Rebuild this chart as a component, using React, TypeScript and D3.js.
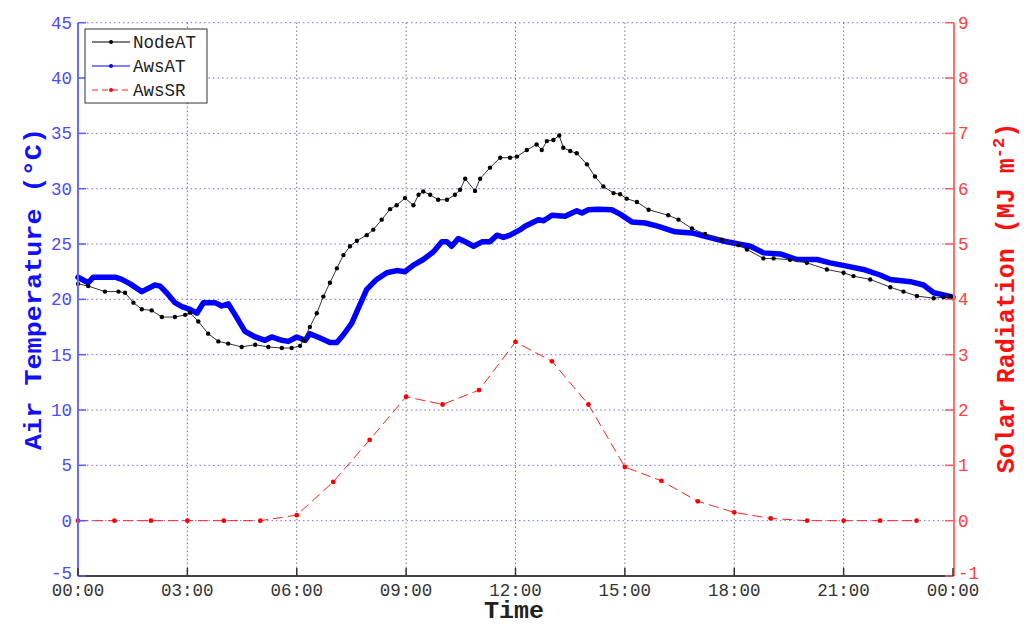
import React from "react";
import * as d3 from "d3";

// time in hours since 00:00, value
const nodeHours = [0, 0.28, 0.74, 1.11, 1.29, 1.52, 1.75, 2.02, 2.3, 2.66, 2.94, 3.07, 3.3, 3.57, 3.85, 4.12, 4.49, 4.86, 5.22, 5.59, 5.86, 6.09, 6.18, 6.36, 6.55, 6.73, 6.91, 7.1, 7.28, 7.46, 7.65, 7.92, 8.1, 8.33, 8.56, 8.74, 8.97, 9.2, 9.34, 9.47, 9.66, 9.88, 10.12, 10.34, 10.48, 10.62, 10.89, 11.03, 11.3, 11.58, 11.85, 12.04, 12.31, 12.58, 12.72, 12.86, 13.04, 13.2, 13.31, 13.5, 13.68, 13.96, 14.18, 14.41, 14.69, 14.87, 15.05, 15.33, 15.65, 16.19, 16.47, 16.84, 17.2, 17.66, 18.12, 18.35, 18.8, 19.08, 19.53, 19.99, 20.54, 21.0, 21.27, 21.73, 22.28, 22.64, 23.01, 23.47, 23.74, 23.92, 24.0];
const nodeAT = [21.4, 21.2, 20.7, 20.7, 20.6, 19.7, 19.1, 19.0, 18.4, 18.4, 18.6, 18.8, 18.0, 16.9, 16.2, 16.0, 15.7, 15.9, 15.7, 15.6, 15.6, 15.8, 16.3, 17.5, 18.75, 20.25, 21.5, 22.8, 24.0, 24.8, 25.3, 25.8, 26.3, 27.2, 28.15, 28.5, 29.15, 28.5, 29.45, 29.75, 29.45, 29.0, 29.0, 29.45, 29.9, 30.9, 29.8, 30.9, 31.9, 32.8, 32.8, 32.9, 33.5, 34.0, 33.5, 34.3, 34.4, 34.8, 33.7, 33.4, 33.2, 32.2, 31.1, 30.2, 29.6, 29.5, 29.1, 28.8, 28.1, 27.6, 27.2, 26.4, 25.9, 25.4, 24.9, 24.5, 23.7, 23.7, 23.57, 23.3, 22.7, 22.4, 22.1, 21.8, 21.1, 20.7, 20.3, 20.1, 20.2, 20.3, 20.1];

const awsHours = [0, 0.28, 0.42, 1.02, 1.2, 1.43, 1.75, 2.11, 2.25, 2.43, 2.66, 2.85, 3.07, 3.26, 3.44, 3.76, 3.94, 4.12, 4.31, 4.58, 4.86, 5.13, 5.31, 5.59, 5.77, 6.0, 6.23, 6.36, 6.64, 6.91, 7.1, 7.28, 7.51, 7.69, 7.92, 8.19, 8.47, 8.74, 8.97, 9.2, 9.47, 9.75, 9.98, 10.12, 10.25, 10.43, 10.62, 10.85, 11.08, 11.3, 11.49, 11.67, 11.85, 12.13, 12.26, 12.63, 12.77, 13.0, 13.36, 13.68, 13.82, 14.0, 14.27, 14.64, 14.87, 15.19, 15.56, 15.92, 16.38, 16.84, 17.2, 17.66, 18.12, 18.44, 18.8, 19.26, 19.72, 20.27, 20.63, 21.09, 21.54, 22.0, 22.28, 22.83, 23.19, 23.47, 23.74, 24.0];
const awsAT = [22.0, 21.5, 22.0, 22.0, 21.8, 21.4, 20.7, 21.3, 21.2, 20.6, 19.7, 19.35, 19.1, 18.75, 19.7, 19.7, 19.4, 19.6, 18.6, 17.1, 16.6, 16.3, 16.6, 16.3, 16.2, 16.6, 16.3, 16.9, 16.5, 16.1, 16.1, 16.8, 17.85, 19.2, 20.9, 21.8, 22.4, 22.6, 22.5, 23.1, 23.6, 24.3, 25.2, 25.2, 24.8, 25.5, 25.2, 24.8, 25.2, 25.2, 25.8, 25.6, 25.8, 26.3, 26.6, 27.2, 27.1, 27.6, 27.5, 28.0, 27.8, 28.1, 28.15, 28.1, 27.7, 27.0, 26.9, 26.6, 26.1, 26.0, 25.7, 25.3, 25.0, 24.8, 24.2, 24.1, 23.6, 23.6, 23.3, 23.0, 22.7, 22.2, 21.8, 21.6, 21.3, 20.6, 20.4, 20.2];

const srHours = [0, 1, 2, 3, 4, 5, 6, 7, 8, 9, 10, 11, 12, 13, 14, 15, 16, 17, 18, 19, 20, 21, 22, 23];
const awsSR = [0, 0, 0, 0, 0, 0, 0.1, 0.7, 1.46, 2.24, 2.1, 2.36, 3.23, 2.88, 2.1, 0.97, 0.72, 0.35, 0.15, 0.04, 0, 0, 0, 0];

const timeTicks = [0, 3, 6, 9, 12, 15, 18, 21, 24];
const timeTickLabels = ["00:00", "03:00", "06:00", "09:00", "12:00", "15:00", "18:00", "21:00", "00:00"];
const tempTicks = [-5, 0, 5, 10, 15, 20, 25, 30, 35, 40, 45];
const srTicks = [-1, 0, 1, 2, 3, 4, 5, 6, 7, 8, 9];
const legendNames = ["NodeAT", "AwsAT", "AwsSR"];

const L = 78, R = 953, T = 22.7, B = 576;
const MONO = "'Liberation Mono', 'Courier New', monospace";

export default function App() {
  const x = d3.scaleLinear().domain([0, 24]).range([L, R]);
  const yL = d3.scaleLinear().domain([-5, 45]).range([B, T]);
  const yR = d3.scaleLinear().domain([-1, 9]).range([B, T]);

  const nodePts = nodeHours.map((h, i) => [x(h), yL(nodeAT[i])] as [number, number]);
  const awsPts = awsHours.map((h, i) => [x(h), yL(awsAT[i])] as [number, number]);
  const srPts = srHours.map((h, i) => [x(h), yR(awsSR[i])] as [number, number]);
  const line = d3.line();

  const blue = "#4a4aff";
  const red = "#ff4040";
  const legendY = [42, 66, 90];

  return (
    <svg width={1024} height={637} style={{ position: "absolute", left: 0, top: 0, background: "#fff" }}>
      {/* horizontal grid */}
      {tempTicks.filter((t) => t > -5).map((t) => (
        <line key={"hg" + t} x1={L} x2={R} y1={yL(t)} y2={yL(t)} stroke="#7070ff" strokeWidth={1} strokeDasharray="1.5,3" />
      ))}
      {/* vertical grid */}
      {timeTicks.slice(1, -1).map((t) => (
        <line key={"vg" + t} x1={x(t)} x2={x(t)} y1={T} y2={B} stroke="#333" strokeWidth={1} strokeDasharray="1,3" />
      ))}
      {/* series */}
      <path d={line(srPts) || ""} fill="none" stroke="#ff2020" strokeWidth={1} strokeDasharray="10,5" />
      {srPts.map((p, i) => (
        <circle key={"sr" + i} cx={p[0]} cy={p[1]} r={2.4} fill="#ff0000" />
      ))}
      <path d={line(awsPts) || ""} fill="none" stroke="#0000ff" strokeWidth={5.5} strokeLinejoin="round" strokeLinecap="round" />
      <path d={line(nodePts) || ""} fill="none" stroke="#333" strokeWidth={1} />
      {nodePts.map((p, i) => (
        <circle key={"nd" + i} cx={p[0]} cy={p[1]} r={2.2} fill="#000" />
      ))}
      {/* axes */}
      <line x1={L} x2={R} y1={B} y2={B} stroke="#444" strokeWidth={2} />
      <line x1={L} x2={L} y1={T} y2={B} stroke="#6a6aff" strokeWidth={2} />
      <line x1={R + 1} x2={R + 1} y1={T} y2={B} stroke="#ff7070" strokeWidth={2} />
      {tempTicks.map((t) => (
        <g key={"lt" + t}>
          <line x1={L} x2={L + 8} y1={yL(t)} y2={yL(t)} stroke="#5a5aff" strokeWidth={1.5} />
          <text x={72} y={yL(t) + (t === -5 ? 3 : 6)} textAnchor="end" fontFamily={MONO} fontSize={17.5} fill={blue}>
            {t}
          </text>
        </g>
      ))}
      {srTicks.map((t) => (
        <g key={"rt" + t}>
          <line x1={R - 8} x2={R + 1} y1={yR(t)} y2={yR(t)} stroke="#ff5a5a" strokeWidth={1.5} />
          <text x={958} y={yR(t) + (t === -1 ? 3 : 6)} textAnchor="start" fontFamily={MONO} fontSize={17.5} fill={red}>
            {t}
          </text>
        </g>
      ))}
      {timeTicks.map((t, i) => (
        <g key={"bt" + t}>
          <line x1={x(t)} x2={x(t)} y1={B} y2={B - 8} stroke="#333" strokeWidth={1.5} />
          <text x={x(t)} y={596} textAnchor="middle" fontFamily={MONO} fontSize={17.5} fill="#333">
            {timeTickLabels[i]}
          </text>
        </g>
      ))}
      {/* axis labels */}
      <text x={514} y={618} textAnchor="middle" fontFamily={MONO} fontWeight="bold" fontSize={23} fill="#222" textLength={60} lengthAdjust="spacingAndGlyphs">
        Time
      </text>
      <text transform="translate(41,289) rotate(-90)" textAnchor="middle" fontFamily={MONO} fontWeight="bold" fontSize={23} fill="#1010ff" textLength={322} lengthAdjust="spacingAndGlyphs">
        Air Temperature (°C)
      </text>
      <text transform="translate(1014,298) rotate(-90)" textAnchor="middle" fontFamily={MONO} fontWeight="bold" fontSize={25} fill="#ff1010">
        Solar Radiation (MJ m<tspan dy={-10} fontSize={17}>-2</tspan><tspan dy={10}>)</tspan>
      </text>
      {/* legend */}
      <rect x={85} y={29} width={122} height={74} fill="#fff" stroke="#333" strokeWidth={1} />
      {legendNames.map((n, i) => (
        <g key={"lg" + n}>
          <line x1={92} x2={130} y1={legendY[i]} y2={legendY[i]}
            stroke={i === 0 ? "#000" : i === 1 ? "#0000ff" : "#ff2020"} strokeWidth={1}
            strokeDasharray={i === 2 ? "6,4" : undefined} />
          <circle cx={111} cy={legendY[i]} r={2} fill={i === 0 ? "#000" : i === 1 ? "#0000ff" : "#ff0000"} />
          <text x={133} y={legendY[i] + 6} fontFamily={MONO} fontSize={17.5} fill="#222">
            {n}
          </text>
        </g>
      ))}
    </svg>
  );
}
